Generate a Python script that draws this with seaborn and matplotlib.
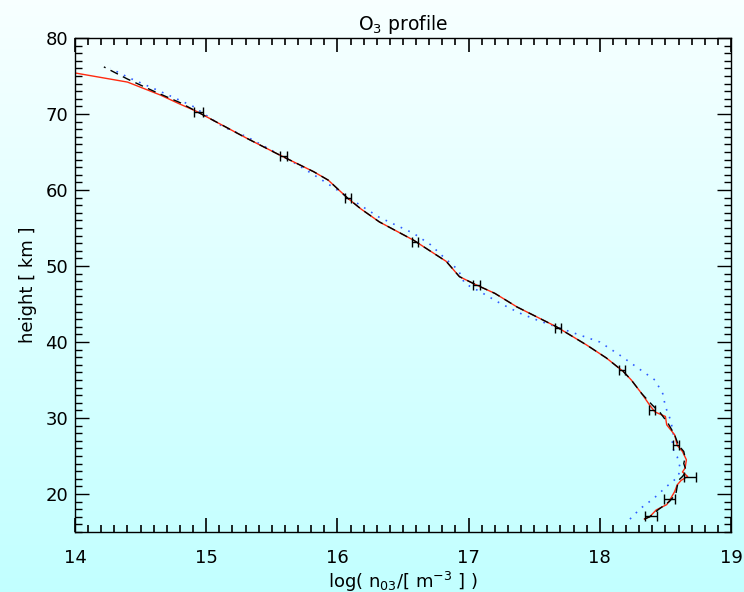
import numpy as np
import pandas as pd
import seaborn as sns
import matplotlib.pyplot as plt
from matplotlib.ticker import MultipleLocator

# red solid profile (log density, height km), from bottom to top
red_x = [18.34, 18.38, 18.43, 18.51, 18.54, 18.57, 18.59, 18.62, 18.67, 18.63, 18.65, 18.66,
         18.63, 18.59, 18.57, 18.51, 18.50, 18.42, 18.38, 18.32, 18.24, 18.18, 18.05, 17.90,
         17.67, 17.52, 17.37, 17.20, 17.06, 16.93, 16.83, 16.58, 16.32, 16.18, 16.08, 15.93,
         15.82, 15.56, 15.31, 15.05, 14.92, 14.80, 14.65, 14.40, 14.00]
red_h = [16.7, 17.0, 17.9, 18.6, 19.4, 20.3, 21.2, 21.8, 22.3, 22.9, 23.4, 24.5,
         25.6, 26.4, 27.8, 29.1, 30.2, 30.8, 31.7, 33.2, 35.0, 36.1, 37.9, 39.6,
         42.0, 43.3, 44.6, 46.4, 47.5, 48.6, 50.6, 53.4, 55.8, 57.5, 58.9, 61.3,
         62.4, 64.6, 66.8, 69.2, 70.4, 71.3, 72.5, 74.2, 75.4]

# black dashed profile
black_x = [18.34, 18.38, 18.45, 18.53, 18.58, 18.59, 18.60, 18.63, 18.66, 18.64, 18.65,
           18.64, 18.60, 18.57, 18.52, 18.46, 18.40, 18.32, 18.24, 18.18, 18.05, 17.90,
           17.67, 17.52, 17.37, 17.20, 17.06, 16.93, 16.83, 16.58, 16.32, 16.18, 16.08,
           15.93, 15.82, 15.56, 15.31, 15.05, 14.92, 14.80, 14.60, 14.40, 14.22]
black_h = [16.7, 17.0, 18.0, 19.0, 20.0, 21.0, 21.8, 22.3, 23.0, 24.0, 24.8,
           25.6, 26.4, 27.8, 29.3, 30.7, 31.7, 33.2, 35.0, 36.1, 37.9, 39.6,
           42.0, 43.3, 44.6, 46.4, 47.5, 48.6, 50.6, 53.4, 55.8, 57.5, 58.9,
           61.3, 62.4, 64.6, 66.8, 69.2, 70.4, 71.5, 73.0, 74.6, 76.2]

# blue dotted profile
blue_x = [18.23, 18.31, 18.41, 18.51, 18.60, 18.61, 18.59, 18.55, 18.56, 18.54, 18.50,
          18.48, 18.42, 18.33, 18.15, 18.00, 17.85, 17.70, 17.52, 17.39, 17.24, 17.09,
          16.97, 16.92, 16.82, 16.71, 16.58, 16.32, 16.12, 15.92, 15.82, 15.66, 15.31,
          15.13, 14.90, 14.80, 14.62, 14.42, 14.27]
blue_h = [16.7, 18.1, 19.4, 21.0, 22.3, 23.6, 24.9, 26.2, 28.0, 29.7, 31.5,
          33.2, 35.0, 36.1, 38.3, 40.0, 40.9, 41.8, 42.9, 43.8, 45.1, 46.6,
          47.7, 49.5, 51.0, 52.8, 54.3, 56.4, 58.6, 60.9, 62.0, 63.7, 67.0,
          68.3, 71.0, 71.8, 73.2, 74.7, 76.0]

# error bar points
err_x = [14.94, 15.59, 16.08, 16.59, 17.06, 17.68, 18.17, 18.40, 18.58, 18.69, 18.53, 18.39]
err_h = [70.3, 64.5, 58.9, 53.2, 47.5, 41.8, 36.3, 31.1, 26.4, 22.3, 19.4, 17.1]
err_dx = [0.032, 0.028, 0.025, 0.025, 0.025, 0.025, 0.025, 0.023, 0.025, 0.045, 0.04, 0.045]

# IDL-like axes: ticks inside on all four sides
plt.rcParams['font.family'] = ['DejaVu Sans']
plt.rcParams.update({
    'axes.linewidth': 1.0, 'axes.edgecolor': 'black',
    'xtick.direction': 'in', 'ytick.direction': 'in',
    'xtick.top': True, 'ytick.right': True,
    'xtick.minor.visible': True, 'ytick.minor.visible': True,
    'xtick.major.size': 10, 'ytick.major.size': 10,
    'xtick.minor.size': 5, 'ytick.minor.size': 5,
    'xtick.major.width': 1.2, 'ytick.major.width': 1.0,
    'xtick.minor.width': 1.2, 'ytick.minor.width': 1.0,
    'xtick.color': 'black', 'ytick.color': 'black',
    'xtick.major.pad': 12, 'ytick.major.pad': 5,
    'xtick.labelsize': 13, 'ytick.labelsize': 13,
})

fig = plt.figure(figsize=(7.44, 5.92), dpi=100)

# background gradient (near white at top, light cyan at bottom)
bg = fig.add_axes([0, 0, 1, 1], zorder=-10)
grad = np.linspace(0, 1, 256).reshape(-1, 1)
top = np.array([0.97, 1.0, 1.0])
bot = np.array([0.76, 1.0, 1.0])
img = top + grad[..., None] * (bot - top)
bg.imshow(img, aspect='auto', extent=[0, 1, 0, 1])
bg.axis('off')

ax = fig.add_axes([75 / 744, 1 - 532 / 592, 656 / 744, 494 / 592])
ax.set_facecolor('none')
ax.set_xlim(14, 19)
ax.set_ylim(15, 80)
ax.xaxis.set_major_locator(MultipleLocator(1))
ax.xaxis.set_minor_locator(MultipleLocator(0.1))
ax.yaxis.set_major_locator(MultipleLocator(10))
ax.yaxis.set_minor_locator(MultipleLocator(1))

df_blue = pd.DataFrame({"x": blue_x, "h": blue_h})
df_red = pd.DataFrame({"x": red_x, "h": red_h})
df_black = pd.DataFrame({"x": black_x, "h": black_h})

sns.lineplot(data=df_blue, x="x", y="h", sort=False, estimator=None, ax=ax,
             color="#2f5cff", lw=1.2, linestyle=(0, (1, 4)))
sns.lineplot(data=df_red, x="x", y="h", sort=False, estimator=None, ax=ax,
             color="#ff2a10", lw=1.0)
sns.lineplot(data=df_black, x="x", y="h", sort=False, estimator=None, ax=ax,
             color="black", lw=1.0, linestyle=(0, (6, 4)))
ax.errorbar(err_x, err_h, xerr=err_dx, fmt='none', ecolor='black', elinewidth=1.0,
            capsize=3.5, capthick=1.0)

ax.set_xlim(14, 19)
ax.set_ylim(15, 80)

ax.set_title("O$_3$ profile", fontsize=13.5, pad=6)
ax.set_xlabel("log( n$_{03}$/[ m$^{-3}$ ] )", fontsize=13, labelpad=2)
ax.set_ylabel("height [ km ]", fontsize=13, labelpad=6)

plt.savefig("out.png", dpi=100)
